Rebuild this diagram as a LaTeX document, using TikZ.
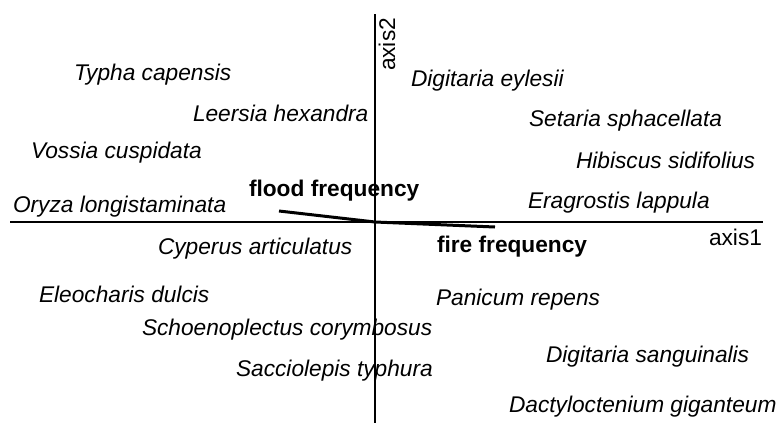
\documentclass[tikz,border=0pt]{standalone}
\usepackage{fontspec}
\setmainfont{Liberation Sans}
\usetikzlibrary{positioning}

\begin{document}
\begin{tikzpicture}[x=1pt, y=-1pt, line width=2pt,
    species/.style={anchor=west, inner sep=0pt, font=\fontsize{22.7}{27}\selectfont\itshape},
    envvar/.style={anchor=west, inner sep=0pt, font=\fontsize{22.7}{27}\selectfont\bfseries},
    axislabel/.style={inner sep=0pt, font=\fontsize{22.7}{27}\selectfont}]
    \useasboundingbox (0,0) rectangle (781,423);
    % Axes
    \coordinate (origin) at (375,222);
    \coordinate (xleft) at (10,222);
    \coordinate (xright) at (763,222);
    \coordinate (ytop) at (375,14);
    \coordinate (ybottom) at (375,423);
    \coordinate (flood) at (279,211);
    \coordinate (fire) at (495,227);

    % Nodes
    \node [axislabel, anchor=east] (axis1) at (763,237) {axis1};
    \node [axislabel, rotate=90, anchor=east] (axis2) at (387,17) {axis2};

    \node [species] (typha) at (73,75) {Typha capensis};
    \node [species] (leersia) at (192,113) {Leersia hexandra};
    \node [species] (vossia) at (30,153) {Vossia cuspidata};
    \node [species] (oryza) at (12,207) {Oryza longistaminata};
    \node [species] (cyperus) at (157,249) {Cyperus articulatus};
    \node [species] (eleocharis) at (38,294) {Eleocharis dulcis};
    \node [species] (schoeno) at (141,330) {Schoenoplectus corymbosus};
    \node [species] (sacciolepis) at (235,371) {Sacciolepis typhura};

    \node [species] (eylesii) at (410,81) {Digitaria eylesii};
    \node [species] (setaria) at (528,121) {Setaria sphacellata};
    \node [species] (hibiscus) at (575,160) {Hibiscus sidifolius};
    \node [species] (eragrostis) at (527,203) {Eragrostis lappula};
    \node [species] (panicum) at (435,300) {Panicum repens};
    \node [species] (sanguinalis) at (545,357) {Digitaria sanguinalis};
    \node [species] (dactylo) at (508,407) {Dactyloctenium giganteum};

    \node [envvar] (floodlabel) at (248,191) {flood frequency};
    \node [envvar] (firelabel) at (436,247) {fire frequency};

    % Lines
    \draw [-] (xleft) -- (xright);
    \draw [-] (ytop) -- (ybottom);
    \draw [-, line width=3pt] (origin) -- (flood);
    \draw [-, line width=3pt] (origin) -- (fire);
\end{tikzpicture}
\end{document}
